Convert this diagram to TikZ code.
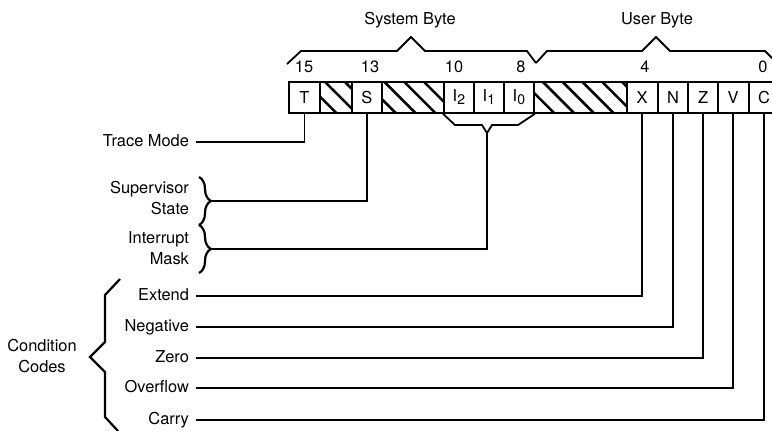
\documentclass[tikz,border=0pt]{standalone}
\usepackage{fontspec}
\setmainfont{TeX Gyre Heros}
\usetikzlibrary{patterns.meta,decorations.pathreplacing}

\tikzset{
	wire/.style={line width=0.9pt},
	bit/.style={draw, line width=0.9pt, minimum height=15.5pt, minimum width=15.25pt, inner sep=0pt, anchor=north west},
	unused/.style={bit, pattern={Lines[angle=-45, distance=7pt, line width=1.3pt]}},
	lbl/.style={anchor=east, text height=6pt, text depth=1.7pt},
	every node/.style={font=\fontsize{8.2}{10.5}\selectfont},
}
\newcommand{\intbit}[1]{I\raisebox{-1.6pt}{\fontsize{7}{7}\selectfont #1}}

\begin{document}
\begin{tikzpicture}[x=0.5pt, y=-0.5pt]
		\useasboundingbox (0,0) rectangle (772,430);
		\clip (0,0) rectangle (772,430);

		% status register
		\node[bit, minimum width=15.5pt] (T) at (288,81) {T};
		\node[unused, minimum width=16pt] (h14) at (319,81) {};
		\node[bit, minimum width=15pt] (S) at (351,81) {S};
		\node[unused, minimum width=31pt] (h12) at (381,81) {};
		\foreach \i/\x in {2/443, 1/473, 0/503}
			\node[bit, minimum width=15pt] (I\i) at (\x,81) {\intbit{\i}};
		\node[unused, minimum width=46.5pt] (h7) at (533,81) {};
		\foreach \f/\x in {X/626, N/657, Z/687, V/717, C/748}
			\node[bit] (\f) at (\x,81) {\f};

		% bit numbers and bytes
		\foreach \n/\x in {15/304, 13/370, 10/454, 8/521, 4/645, 0/763}
			\node (b\n) at (\x,67) {\n};
		\node (sysbyte) at (410,20) {System Byte};
		\node (userbyte) at (657,20) {User Byte};
		\draw[wire] (287,64) -- (301,51) -- (397,51) -- (411,37) -- (425,51) -- (527,51) -- (536,63);
		\draw[wire] (536,63) -- (547,51) -- (642,51) -- (656,37) -- (670,51) -- (765,51) -- (776,62);

		% labels
		\node[lbl] (trace) at (196,142) {Trace Mode};
		\node[lbl, align=right, text height=, text depth=] (sup) at (196,198) {Supervisor\\State};
		\node[lbl, align=right, text height=, text depth=] (int) at (196,248) {Interrupt\\Mask};
		\node[align=center] (cc) at (42,356) {Condition\\Codes};
		\node[lbl] (extend) at (196,296) {Extend};
		\node[lbl] (negative) at (196,327) {Negative};
		\node[lbl] (zero) at (196,358) {Zero};
		\node[lbl] (overflow) at (196,388) {Overflow};
		\node[lbl] (carry) at (196,420) {Carry};

		% braces
		\draw[wire, line width=1.1pt, decorate, decoration={brace, amplitude=6pt}] (199,177) -- (199,225);
		\draw[wire, line width=1.1pt, decorate, decoration={brace, amplitude=6pt}] (199,225) -- (199,273);
		\coordinate (suptip) at (212,201);
		\coordinate (inttip) at (212,249);
		\draw[wire, line width=1.1pt] (120,279) -- (105,295) -- (105,342) -- (90,357) -- (105,372) -- (105,417) -- (118,431);

		% interrupt mask bracket
		\coordinate (imask) at (487,133);
		\draw[wire] (I2.south west) -- (455,125) -- (482,125) -- (imask) -- (492,125) -- (518,125) -- (I0.south east);

		% connectors
		\draw[wire] (T.south) |- (trace.east);
		\draw[wire] (S.south) |- (suptip);
		\draw[wire] (imask) |- (inttip);
		\foreach \f/\l in {X/extend, N/negative, Z/zero, V/overflow, C/carry}
			\draw[wire] (\f.south) |- (\l.east);
\end{tikzpicture}
\end{document}
